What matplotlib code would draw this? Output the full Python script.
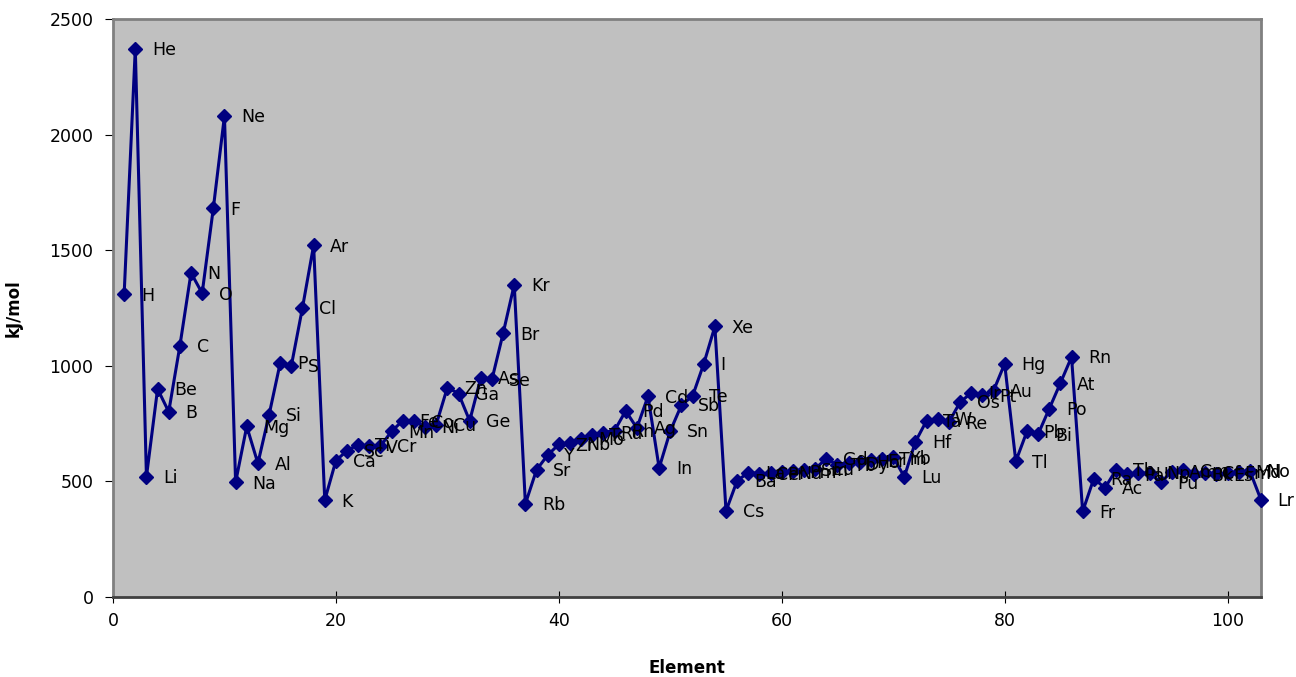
import numpy as np
import matplotlib
matplotlib.use('Agg')
import matplotlib.pyplot as plt

# First ionization energy (kJ/mol)
symbols = ['H', 'He', 'Li', 'Be', 'B', 'C', 'N', 'O', 'F', 'Ne',
           'Na', 'Mg', 'Al', 'Si', 'P', 'S', 'Cl', 'Ar', 'K', 'Ca',
           'Sc', 'Ti', 'V', 'Cr', 'Mn', 'Fe', 'Co', 'Ni', 'Cu', 'Zn',
           'Ga', 'Ge', 'As', 'Se', 'Br', 'Kr', 'Rb', 'Sr', 'Y', 'Zr',
           'Nb', 'Mo', 'Tc', 'Ru', 'Rh', 'Pd', 'Ag', 'Cd', 'In', 'Sn',
           'Sb', 'Te', 'I', 'Xe', 'Cs', 'Ba', 'La', 'Ce', 'Pr', 'Nd',
           'Pm', 'Sm', 'Eu', 'Gd', 'Tb', 'Dy', 'Ho', 'Er', 'Tm', 'Yb',
           'Lu', 'Hf', 'Ta', 'W', 'Re', 'Os', 'Ir', 'Pt', 'Au', 'Hg',
           'Tl', 'Pb', 'Bi', 'Po', 'At', 'Rn', 'Fr', 'Ra', 'Ac', 'Th',
           'Pa', 'U', 'Np', 'Pu', 'Am', 'Cm', 'Bk', 'Cf', 'Es', 'Fm',
           'Md', 'No', 'Lr']

energy = [1310, 2372, 520, 900, 801, 1086, 1402, 1314, 1681, 2081,
          496, 738, 578, 787, 1012, 1000, 1251, 1521, 419, 590,
          633, 659, 651, 653, 717, 763, 760, 737, 746, 906,
          880, 762, 947, 941, 1140, 1351, 403, 550, 614, 660,
          664, 685, 702, 711, 720, 805, 731, 868, 558, 718,
          830, 869, 1008, 1170, 372, 503, 538, 534, 535, 540,
          543, 550, 555, 598, 571, 578, 585, 592, 598, 605,
          520, 672, 763, 772, 756, 843, 882, 872, 892, 1009,
          587, 716, 704, 814, 925, 1038, 370, 512, 472, 550,
          530, 535, 536, 496, 542, 548, 530, 536, 530, 536,
          542, 545, 420]

atomic_number = np.arange(1, len(energy) + 1)

fig = plt.figure(figsize=(12.96, 6.77), dpi=100)
ax = fig.add_axes([113 / 1296, 1 - 597 / 677, (1261 - 113) / 1296, (597 - 19) / 677])
ax.set_facecolor('#C0C0C0')

ax.plot(atomic_number, energy, color='#000080', lw=2.2, marker='D', ms=7.5,
        markeredgecolor='#000080', markerfacecolor='#000080', clip_on=False, zorder=3)

# element labels to the right of each point
for z, e, s in zip(atomic_number, energy, symbols):
    ax.annotate(s, (z, e), xytext=(12, -1), textcoords='offset points',
                ha='left', va='center', fontsize=12.5, color='black', zorder=4,
                annotation_clip=False)

ax.set_xlim(0, 103)
ax.set_ylim(0, 2500)
ax.set_xticks(range(0, 101, 20))
ax.set_yticks(range(0, 2501, 500))
ax.tick_params(axis='x', direction='inout', length=8, labelsize=12.5, pad=7)
ax.tick_params(axis='y', direction='out', length=6, labelsize=12.5, pad=8)

for side in ['top', 'right', 'left']:
    ax.spines[side].set_color('#808080')
    ax.spines[side].set_linewidth(2)
ax.spines['bottom'].set_color('#404040')
ax.spines['bottom'].set_linewidth(2)

ax.set_xlabel('Element', fontsize=12, fontweight='bold')
ax.set_ylabel('kJ/mol', fontsize=12, fontweight='bold')
ax.xaxis.set_label_coords(0.5, -0.108)
ax.yaxis.set_label_coords(-0.079, 0.5)

fig.savefig('out.png', dpi=100)
